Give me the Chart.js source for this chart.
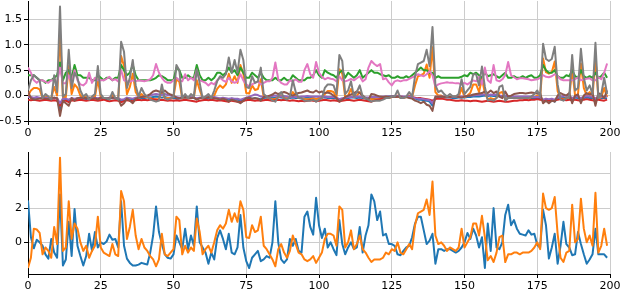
<!DOCTYPE html>
<html>
<head>
<meta charset="utf-8">
<script src="https://cdn.jsdelivr.net/npm/chart.js@4.4.1/dist/chart.umd.min.js"></script>
<style>
html,body{margin:0;padding:0;background:#fff;width:620px;height:292px;overflow:hidden;}
canvas{position:absolute;left:0;}
#top{top:0;}
#bot{top:146px;}
</style>
</head>
<body>
<canvas id="top" width="620" height="146"></canvas>
<canvas id="bot" width="620" height="146"></canvas>
<script>
// ---------- DATA ----------
const xTicks = [0, 25, 50, 75, 100, 125, 150, 175, 200];
const topYTicks = [-0.5, 0.0, 0.5, 1.0, 1.5];
const botYTicks = [0, 2, 4];

// Top panel series
const topBlue = [
-0.02,-0.04,-0.05,-0.04,-0.05,-0.06,-0.05,-0.06,-0.07,-0.05,
-0.06,-0.3,-0.1,-0.08,-0.12,-0.06,-0.08,-0.06,-0.05,-0.06,
-0.07,-0.05,-0.06,-0.05,-0.07,-0.05,-0.06,-0.07,-0.06,-0.05,
-0.06,-0.07,-0.1,-0.09,-0.05,-0.06,-0.08,-0.05,-0.04,-0.05,
-0.05,-0.04,-0.04,-0.03,-0.02,-0.03,-0.04,-0.03,-0.04,-0.05,
-0.05,-0.06,-0.06,-0.05,-0.04,-0.05,-0.04,-0.05,-0.07,-0.05,
-0.05,-0.06,-0.05,-0.06,-0.05,-0.06,-0.07,-0.06,-0.07,-0.08,
-0.06,-0.07,-0.08,-0.1,-0.08,-0.05,-0.05,-0.06,-0.05,-0.06,
-0.07,-0.05,-0.04,-0.05,-0.05,-0.04,-0.03,-0.04,-0.05,-0.04,
-0.05,-0.04,-0.05,-0.05,-0.06,-0.05,-0.04,-0.05,-0.05,-0.06,
-0.05,-0.04,-0.04,-0.05,-0.05,-0.05,-0.06,-0.09,-0.07,-0.05,
-0.05,-0.04,-0.04,-0.05,-0.04,-0.05,-0.06,-0.06,-0.05,-0.05,
-0.04,-0.04,-0.03,-0.03,-0.02,-0.02,-0.02,-0.02,-0.03,-0.03,
-0.03,-0.03,-0.04,-0.06,-0.08,-0.08,-0.1,-0.1,-0.12,-0.2,
-0.04,-0.03,-0.03,-0.04,-0.04,-0.04,-0.05,-0.05,-0.04,-0.04,
-0.04,-0.03,-0.03,-0.02,-0.02,-0.02,-0.01,0.0,-0.01,0.0,
-0.01,-0.01,-0.02,-0.03,-0.02,-0.03,-0.03,-0.04,-0.04,-0.05,
-0.05,-0.05,-0.04,-0.05,-0.05,-0.05,-0.06,-0.1,-0.08,-0.1,
-0.09,-0.12,-0.05,-0.04,-0.05,-0.05,-0.04,-0.07,-0.04,-0.05,
-0.07,-0.05,-0.04,-0.05,-0.05,-0.07,-0.04,-0.05,-0.05,-0.06
];
const topOrange = [
0.0,0.1,0.15,0.15,0.12,-0.05,-0.03,-0.03,-0.05,0.17,
0.0,1.22,-0.03,-0.03,0.58,0.03,0.22,0.15,0.0,-0.03,
-0.03,-0.05,-0.03,-0.03,0.32,-0.03,-0.05,-0.05,-0.05,0.0,
-0.05,-0.05,0.78,0.58,0.03,0.17,0.43,0.07,-0.03,0.03,
-0.03,-0.03,-0.05,-0.07,-0.07,-0.07,0.09,-0.05,-0.05,-0.05,
-0.03,0.32,0.27,-0.05,-0.03,-0.05,-0.03,-0.03,0.3,0.11,
-0.05,-0.03,-0.03,-0.05,0.0,0.13,0.2,0.15,0.22,0.43,
0.25,0.38,0.25,0.6,0.43,0.05,0.04,0.2,0.11,0.13,
0.32,-0.03,-0.03,-0.05,-0.07,-0.07,-0.03,0.0,-0.05,-0.05,
-0.03,0.07,0.0,-0.05,-0.05,-0.07,-0.07,-0.07,-0.05,-0.07,
-0.05,-0.05,0.03,0.09,0.09,0.07,-0.03,0.52,0.43,-0.03,
0.0,0.13,-0.03,0.0,0.07,-0.03,-0.05,-0.05,-0.07,-0.07,
-0.07,-0.07,-0.05,-0.05,-0.05,-0.03,-0.03,0.0,-0.05,-0.05,
-0.03,0.0,-0.03,0.2,0.38,0.4,0.43,0.61,0.35,0.95,
0.07,0.0,0.0,-0.03,-0.03,-0.03,-0.03,-0.03,-0.03,0.15,
-0.03,0.0,0.05,0.22,0.22,0.07,0.34,0.05,-0.07,-0.05,
-0.07,-0.05,0.05,0.07,-0.07,-0.05,-0.05,-0.05,-0.05,-0.05,
-0.05,-0.05,-0.05,-0.03,-0.03,0.0,-0.03,0.73,0.46,0.43,
0.46,0.67,0.09,-0.05,-0.07,-0.05,-0.03,0.52,0.0,0.03,
0.63,0.15,0.0,0.07,-0.03,0.75,-0.05,-0.03,0.15,-0.03
];
const topGreen = [
0.4,0.4,0.4,0.35,0.3,0.3,0.25,0.3,0.3,0.35,
0.4,0.65,0.3,0.45,0.5,0.35,0.6,0.4,0.4,0.35,
0.35,0.35,0.3,0.3,0.4,0.35,0.3,0.35,0.35,0.3,
0.35,0.35,0.6,0.5,0.4,0.45,0.6,0.4,0.3,0.3,
0.3,0.3,0.3,0.32,0.35,0.4,0.38,0.35,0.3,0.3,
0.3,0.55,0.5,0.35,0.35,0.4,0.35,0.35,0.6,0.4,
0.3,0.3,0.35,0.3,0.35,0.45,0.45,0.4,0.45,0.55,
0.45,0.5,0.4,0.55,0.45,0.35,0.35,0.45,0.4,0.35,
0.45,0.35,0.3,0.3,0.3,0.35,0.3,0.3,0.35,0.3,
0.3,0.4,0.35,0.3,0.3,0.3,0.35,0.35,0.4,0.5,
0.4,0.35,0.5,0.45,0.42,0.4,0.35,0.45,0.5,0.35,
0.45,0.4,0.35,0.4,0.5,0.35,0.4,0.45,0.5,0.45,
0.45,0.42,0.4,0.38,0.4,0.35,0.35,0.38,0.35,0.35,
0.38,0.35,0.4,0.45,0.5,0.55,0.5,0.5,0.45,0.45,
0.35,0.38,0.35,0.35,0.35,0.35,0.35,0.35,0.35,0.37,
0.4,0.38,0.45,0.42,0.45,0.4,0.35,0.45,0.38,0.4,
0.42,0.38,0.35,0.4,0.45,0.35,0.35,0.38,0.35,0.35,
0.38,0.35,0.38,0.4,0.35,0.35,0.4,0.6,0.5,0.45,
0.45,0.5,0.38,0.35,0.35,0.4,0.38,0.5,0.38,0.35,
0.5,0.38,0.35,0.38,0.35,0.45,0.35,0.38,0.45,0.35
];
const topRed = [
-0.08,-0.09,-0.08,-0.09,-0.1,-0.09,-0.08,-0.09,-0.1,-0.09,
-0.1,-0.2,-0.12,-0.1,-0.13,-0.09,-0.1,-0.09,-0.08,-0.09,
-0.1,-0.09,-0.08,-0.09,-0.1,-0.09,-0.08,-0.1,-0.11,-0.1,
-0.09,-0.1,-0.13,-0.11,-0.09,-0.1,-0.11,-0.09,-0.08,-0.09,
-0.08,-0.09,-0.08,-0.07,-0.08,-0.09,-0.08,-0.09,-0.1,-0.09,
-0.1,-0.09,-0.1,-0.09,-0.08,-0.09,-0.1,-0.11,-0.12,-0.1,
-0.09,-0.08,-0.09,-0.08,-0.09,-0.1,-0.09,-0.1,-0.11,-0.12,
-0.1,-0.11,-0.12,-0.13,-0.11,-0.09,-0.08,-0.09,-0.1,-0.09,
-0.1,-0.09,-0.08,-0.09,-0.1,-0.09,-0.08,-0.09,-0.08,-0.09,
-0.1,-0.09,-0.1,-0.11,-0.1,-0.11,-0.1,-0.09,-0.1,-0.11,
-0.1,-0.09,-0.08,-0.09,-0.1,-0.09,-0.1,-0.12,-0.1,-0.09,
-0.08,-0.09,-0.1,-0.09,-0.08,-0.09,-0.1,-0.11,-0.12,-0.1,
-0.08,-0.07,-0.06,-0.05,-0.04,-0.03,-0.03,-0.02,-0.02,-0.03,
-0.03,-0.02,-0.03,-0.04,-0.05,-0.05,-0.06,-0.07,-0.08,-0.1,
-0.07,-0.06,-0.06,-0.07,-0.08,-0.08,-0.09,-0.1,-0.1,-0.09,
-0.1,-0.1,-0.11,-0.1,-0.1,-0.11,-0.12,-0.11,-0.1,-0.11,
-0.12,-0.11,-0.1,-0.11,-0.12,-0.12,-0.11,-0.1,-0.1,-0.09,
-0.09,-0.08,-0.09,-0.08,-0.08,-0.07,-0.08,-0.1,-0.09,-0.1,
-0.09,-0.1,-0.08,-0.07,-0.08,-0.09,-0.08,-0.1,-0.08,-0.09,
-0.1,-0.08,-0.07,-0.08,-0.09,-0.1,-0.08,-0.09,-0.1,-0.08
];
const topPurple = [
-0.03,-0.03,-0.04,-0.03,-0.04,-0.05,-0.04,-0.05,-0.05,-0.04,
-0.05,-0.15,-0.06,-0.06,-0.08,-0.05,-0.06,-0.05,-0.04,-0.05,
-0.05,-0.04,-0.05,-0.04,-0.05,-0.04,-0.05,-0.05,-0.04,-0.04,
-0.05,-0.05,-0.08,-0.07,-0.04,-0.05,-0.06,-0.04,-0.03,-0.03,
-0.02,-0.01,0.0,0.02,0.03,0.02,0.01,0.03,0.01,0.0,
-0.02,-0.03,-0.04,-0.03,-0.03,-0.04,-0.03,-0.04,-0.05,-0.04,
-0.04,-0.04,-0.03,-0.04,-0.03,-0.04,-0.05,-0.04,-0.05,-0.06,
-0.05,-0.06,-0.06,-0.08,-0.06,-0.04,-0.02,0.0,0.02,0.01,
-0.02,-0.03,-0.03,-0.02,-0.01,0.0,-0.01,-0.02,-0.01,-0.02,
-0.03,-0.02,-0.03,-0.03,-0.02,-0.02,-0.01,-0.02,-0.02,-0.02,
-0.02,-0.02,-0.02,-0.03,-0.03,-0.03,-0.04,-0.07,-0.05,-0.04,
-0.03,-0.03,-0.02,-0.02,-0.02,-0.03,-0.04,-0.04,-0.03,-0.03,
-0.03,-0.03,-0.02,-0.02,-0.02,-0.02,-0.01,-0.01,-0.02,-0.02,
-0.02,-0.02,-0.03,-0.05,-0.06,-0.06,-0.07,-0.08,-0.09,-0.15,
-0.03,-0.02,-0.02,-0.02,-0.03,-0.03,-0.03,-0.03,-0.02,-0.02,
-0.02,-0.01,0.0,0.0,0.01,0.01,0.02,0.02,0.01,0.02,
0.01,0.02,0.0,-0.01,0.0,-0.01,-0.01,-0.02,-0.02,-0.02,
-0.02,-0.02,-0.02,-0.02,-0.03,-0.03,-0.03,-0.08,-0.06,-0.07,
-0.06,-0.08,-0.03,-0.02,-0.01,0.0,-0.01,-0.05,-0.02,-0.02,
-0.05,-0.02,-0.01,-0.02,-0.02,-0.06,-0.02,-0.02,-0.03,-0.02
];
const topBrown = [
0.08,-0.05,-0.08,-0.07,-0.06,-0.05,-0.06,-0.07,-0.05,-0.04,
-0.05,-0.4,-0.1,-0.15,-0.2,-0.05,-0.1,-0.05,-0.04,-0.05,
-0.05,-0.04,-0.06,-0.05,-0.08,-0.04,-0.05,-0.06,-0.05,-0.04,
-0.05,-0.06,-0.2,-0.15,-0.06,-0.1,-0.15,-0.06,-0.04,-0.03,
-0.02,0.0,0.03,0.08,0.1,0.08,0.06,0.1,0.05,0.02,
0.0,-0.04,-0.05,-0.04,-0.03,-0.04,-0.05,-0.04,-0.08,-0.05,
-0.04,-0.05,-0.03,-0.04,-0.05,-0.06,-0.08,-0.06,-0.08,-0.12,
-0.08,-0.1,-0.12,-0.15,-0.1,-0.05,-0.04,-0.06,-0.05,-0.06,
-0.1,-0.03,-0.02,0.0,0.02,0.06,0.03,0.05,0.07,0.05,
0.02,0.0,0.03,0.05,0.06,0.08,0.1,0.07,0.06,0.1,
0.06,0.08,0.05,0.06,0.04,0.0,-0.05,-0.12,-0.08,-0.03,
0.0,0.02,0.05,0.08,0.05,0.0,-0.05,-0.08,0.03,0.02,
0.0,-0.02,-0.03,-0.02,-0.03,-0.02,-0.03,-0.02,-0.03,-0.04,
-0.03,-0.05,-0.06,-0.1,-0.12,-0.15,-0.12,-0.18,-0.2,-0.3,
-0.02,-0.03,-0.02,-0.03,-0.02,-0.03,-0.02,-0.02,-0.03,-0.04,
-0.02,-0.01,0.0,0.02,0.03,0.04,0.05,0.08,0.05,0.1,
0.05,0.08,-0.02,-0.05,0.08,-0.02,0.0,0.03,0.04,0.05,
0.05,0.04,0.05,0.06,0.05,0.04,0.05,-0.15,-0.1,-0.15,
-0.1,-0.12,0.0,0.05,0.02,0.0,0.05,-0.15,0.0,0.02,
-0.15,0.0,0.05,0.02,0.05,-0.2,0.05,0.02,-0.05,0.1
];
const topPink = [
0.55,0.45,0.3,0.25,0.3,0.3,0.27,0.25,0.3,0.3,
0.25,0.55,0.24,0.24,0.4,0.25,0.5,0.3,0.22,0.2,
0.25,0.45,0.25,0.35,0.3,0.3,0.3,0.33,0.37,0.3,
0.32,0.28,0.5,0.3,0.28,0.27,0.3,0.28,0.3,0.29,
0.28,0.3,0.32,0.4,0.62,0.45,0.35,0.28,0.25,0.25,
0.3,0.35,0.3,0.28,0.42,0.3,0.35,0.3,0.5,0.3,
0.28,0.25,0.2,0.25,0.22,0.3,0.35,0.3,0.27,0.35,
0.28,0.25,0.28,0.42,0.3,0.22,0.18,0.22,0.25,0.28,
0.22,0.25,0.28,0.28,0.35,0.65,0.32,0.25,0.22,0.22,
0.3,0.28,0.32,0.27,0.27,0.5,0.62,0.42,0.35,0.66,
0.45,0.37,0.32,0.35,0.33,0.32,0.28,0.38,0.3,0.28,
0.3,0.33,0.3,0.34,0.38,0.28,0.32,0.55,0.68,0.62,
0.58,0.62,0.32,0.34,0.26,0.2,0.28,0.3,0.28,0.3,
0.3,0.33,0.36,0.38,0.42,0.4,0.38,0.42,0.48,0.4,
0.18,0.22,0.24,0.25,0.26,0.25,0.25,0.24,0.24,0.22,
0.25,0.22,0.26,0.3,0.28,0.37,0.22,0.55,0.3,0.25,
0.6,0.3,0.28,0.32,0.4,0.66,0.4,0.36,0.32,0.34,
0.34,0.33,0.32,0.3,0.31,0.32,0.35,0.4,0.37,0.36,
0.38,0.42,0.38,0.32,0.3,0.3,0.3,0.3,0.32,0.36,
0.3,0.32,0.33,0.34,0.3,0.3,0.36,0.32,0.45,0.63
];
const topGray = [
0.1,0.3,0.4,0.35,0.3,-0.05,0.03,-0.02,-0.08,0.4,
0.07,1.75,-0.02,0.03,0.9,0.15,0.45,0.35,0.1,-0.02,
0.03,-0.08,-0.02,0.03,0.58,0.03,-0.05,-0.05,-0.08,0.07,
-0.05,-0.08,1.06,0.86,0.15,0.35,0.7,0.2,-0.02,0.15,
0.03,-0.02,-0.08,-0.1,-0.12,-0.1,0.22,-0.05,-0.08,-0.05,
-0.02,0.6,0.5,-0.05,0.03,-0.05,0.03,-0.02,0.52,0.25,
-0.05,-0.02,0.03,-0.05,0.1,0.28,0.38,0.35,0.42,0.75,
0.45,0.7,0.45,0.9,0.7,0.17,0.15,0.38,0.25,0.28,
0.55,0.03,-0.02,-0.05,-0.1,-0.12,-0.02,0.07,-0.05,-0.08,
-0.02,0.3,0.07,-0.05,-0.05,-0.1,-0.1,-0.1,-0.08,-0.12,
-0.08,-0.05,0.15,0.22,0.22,0.2,0.03,0.8,0.68,0.03,
0.1,0.28,-0.02,0.07,0.2,-0.02,-0.05,-0.08,-0.12,-0.1,
-0.1,-0.1,-0.08,-0.05,-0.05,-0.02,-0.02,0.1,-0.05,-0.05,
-0.02,0.07,-0.02,0.38,0.62,0.65,0.68,0.9,0.58,1.35,
0.2,0.07,0.1,0.03,-0.02,0.03,-0.02,-0.02,0.03,0.32,
0.03,0.1,0.17,0.42,0.42,0.2,0.57,0.17,-0.1,-0.08,
-0.1,-0.05,0.17,0.2,-0.1,-0.05,-0.05,-0.05,-0.05,-0.05,
-0.05,-0.05,-0.05,-0.02,0.03,0.1,-0.02,1.02,0.72,0.68,
0.72,0.96,0.22,-0.08,-0.1,-0.05,-0.02,0.8,0.1,0.15,
0.92,0.35,0.1,0.2,0.03,1.04,-0.05,0.03,0.35,0.03
];

// Bottom panel series
const botBlue = [
2.45,0.3,-0.35,0.15,0.0,-0.2,-0.7,-0.95,0.2,-0.6,
-0.9,2.8,-1.35,-1.0,1.2,-0.8,1.95,-0.2,-0.8,-1.35,
-0.8,0.5,-0.5,0.6,-0.3,0.0,-0.1,0.05,0.45,0.15,
0.2,-0.3,2.4,-0.2,-0.95,-1.2,-1.35,-1.35,-1.3,-1.2,
-1.25,-1.3,-0.6,0.4,2.1,0.6,-0.1,-0.7,-0.9,-0.95,
-0.7,0.4,0.0,-0.4,0.8,-0.4,0.4,-0.2,2.1,0.0,
-0.3,-0.6,-1.25,-0.6,-1.0,0.25,0.7,0.2,-0.4,0.5,
-0.6,-0.7,-0.3,1.6,-0.3,-1.1,-1.5,-0.9,-0.7,-0.5,
-1.1,-1.0,-0.8,-0.9,0.0,2.4,0.0,-1.0,-1.2,-1.0,
0.2,-0.2,0.2,-0.5,-0.6,1.5,1.8,0.9,0.45,2.6,
1.0,0.25,0.8,-0.3,0.0,-0.4,-0.75,1.3,-0.1,-0.7,
-0.3,0.0,-0.4,-0.3,0.9,-0.6,0.4,1.0,2.8,2.4,
1.3,1.8,0.4,0.5,-0.1,-0.1,-0.2,-0.7,-0.75,-0.5,
-0.3,-0.2,0.3,1.1,1.5,1.5,0.7,-0.1,0.1,0.5,
-1.25,-0.4,-0.4,-0.5,-0.4,-0.4,-0.5,-0.6,-0.5,-0.3,
0.0,0.55,0.2,0.8,0.4,-0.3,0.3,-1.5,1.1,-0.5,
2.0,-0.3,-0.4,0.0,1.6,2.2,1.0,1.3,0.8,0.5,
0.45,0.4,0.7,0.45,0.5,-0.15,-0.3,1.9,1.0,-0.95,
-0.3,0.5,-1.25,-0.2,1.2,-0.1,-0.3,-0.75,-0.7,0.6,
-0.1,-0.7,-1.25,-1.0,-0.7,0.8,-0.7,-0.7,-0.7,-0.9
];
const botOrange = [
-1.5,-0.9,0.8,0.75,0.55,-0.7,-0.3,-0.5,-0.9,0.9,
-0.1,4.95,-0.5,-0.3,2.4,0.2,1.1,0.8,0.0,-0.5,
-0.2,-0.9,-0.5,-0.2,1.5,-0.3,-0.6,-0.7,-0.8,-0.1,
-0.7,-0.8,3.0,2.4,0.2,0.9,1.9,0.4,-0.4,0.2,
-0.3,-0.5,-0.8,-1.0,-1.4,-1.0,0.5,-0.7,-0.8,-0.6,
-0.4,1.5,1.3,-0.7,-0.2,-0.6,-0.3,-0.5,1.4,0.6,
-0.7,-0.4,-0.2,-0.6,0.0,0.7,1.0,0.8,1.1,1.9,
1.2,1.7,1.2,2.4,1.9,0.3,0.25,1.0,0.6,0.7,
1.5,-0.2,-0.4,-0.7,-1.0,-1.4,-0.4,-0.1,-0.6,-0.9,
-0.5,0.4,-0.1,-0.6,-0.7,-1.0,-1.1,-1.0,-0.8,-1.2,
-0.9,-0.6,0.2,0.5,0.5,0.4,-0.2,2.1,1.9,-0.3,
0.0,0.7,-0.4,-0.1,0.4,-0.4,-0.6,-0.9,-1.15,-1.0,
-1.0,-1.0,-0.9,-0.6,-0.7,-0.4,-0.5,0.0,-0.6,-0.7,
-0.4,-0.1,-0.4,1.0,1.7,1.8,1.9,2.5,1.6,3.55,
0.4,-0.1,0.0,-0.2,-0.5,-0.3,-0.4,-0.5,-0.3,0.8,
-0.3,0.0,0.3,1.1,1.1,0.4,1.55,0.3,-1.05,-0.8,
-1.15,-0.6,0.3,0.4,-1.15,-0.7,-0.7,-0.6,-0.6,-0.7,
-0.6,-0.6,-0.6,-0.5,-0.3,0.0,-0.4,2.85,2.0,1.9,
2.0,2.65,0.5,-0.9,-1.15,-0.6,-0.5,2.2,0.0,0.2,
2.55,0.8,0.0,0.4,-0.2,2.9,-0.6,-0.2,0.8,-0.2
];

const xIndex = Array.from({length: botOrange.length}, (_, i) => i);

// ---------- RENDER ----------
const C = {
  blue:'#1f77b4', orange:'#ff7f0e', green:'#2ca02c', red:'#d62728',
  purple:'#9467bd', brown:'#8c564b', pink:'#e377c2', gray:'#7f7f7f'
};
const FONT = {family:"'DejaVu Sans', sans-serif", size:11};
const pts = arr => arr.map((v, i) => ({x: xIndex[i], y: v}));
const minus = s => String(s).replace('-', '\u2212');

function ds(arr, color, order){
  return {data: pts(arr), borderColor: color, borderWidth: 2, pointRadius: 0,
          tension: 0, fill: false, order: order, borderJoinStyle: 'round'};
}

function makeOptions(yMin, yMax, yTicks, yFmt, padTop, xAxisH){
  return {
    responsive: false, animation: false, devicePixelRatio: 1,
    layout: {autoPadding: false, padding: {left: 0, right: 10, top: padTop, bottom: 0}},
    plugins: {legend: {display: false}, tooltip: {enabled: false}},
    scales: {
      x: {
        type: 'linear', min: 0, max: 200,
        afterBuildTicks: s => { s.ticks = xTicks.map(v => ({value: v})); },
        afterFit: s => { s.height = xAxisH; s.paddingLeft = 0; s.paddingRight = 0; s.paddingTop = 0; s.paddingBottom = 0; },
        grid: {color: '#cccccc', lineWidth: 1, drawTicks: true, tickLength: 4, tickColor: '#000'},
        border: {display: true, color: '#000', width: 1},
        ticks: {font: FONT, color: '#000', padding: 2, maxRotation: 0, autoSkip: false}
      },
      y: {
        type: 'linear', min: yMin, max: yMax,
        afterBuildTicks: s => { s.ticks = yTicks.map(v => ({value: v})); },
        afterFit: s => { s.width = 28; s.paddingLeft = 0; s.paddingRight = 0; s.paddingTop = 0; s.paddingBottom = 0; },
        grid: {color: '#cccccc', lineWidth: 1, drawTicks: true, tickLength: 4, tickColor: '#000'},
        border: {display: true, color: '#000', width: 1},
        ticks: {font: FONT, color: '#000', padding: 2, callback: v => yFmt(v)}
      }
    }
  };
}

new Chart(document.getElementById('top'), {
  type: 'line',
  data: {datasets: [
    ds(topBlue, C.blue, 7), ds(topOrange, C.orange, 6), ds(topGreen, C.green, 5),
    ds(topRed, C.red, 4), ds(topPurple, C.purple, 3), ds(topBrown, C.brown, 2),
    ds(topPink, C.pink, 1), ds(topGray, C.gray, 0)
  ]},
  options: makeOptions(-0.5, 1.86, topYTicks, v => minus(Number(v).toFixed(1)), 1, 25)
});

new Chart(document.getElementById('bot'), {
  type: 'line',
  data: {datasets: [ds(botBlue, C.blue, 1), ds(botOrange, C.orange, 0)]},
  options: makeOptions(-1.85, 5.28, botYTicks, v => minus(String(v)), 6, 18)
});
</script>
</body>
</html>
